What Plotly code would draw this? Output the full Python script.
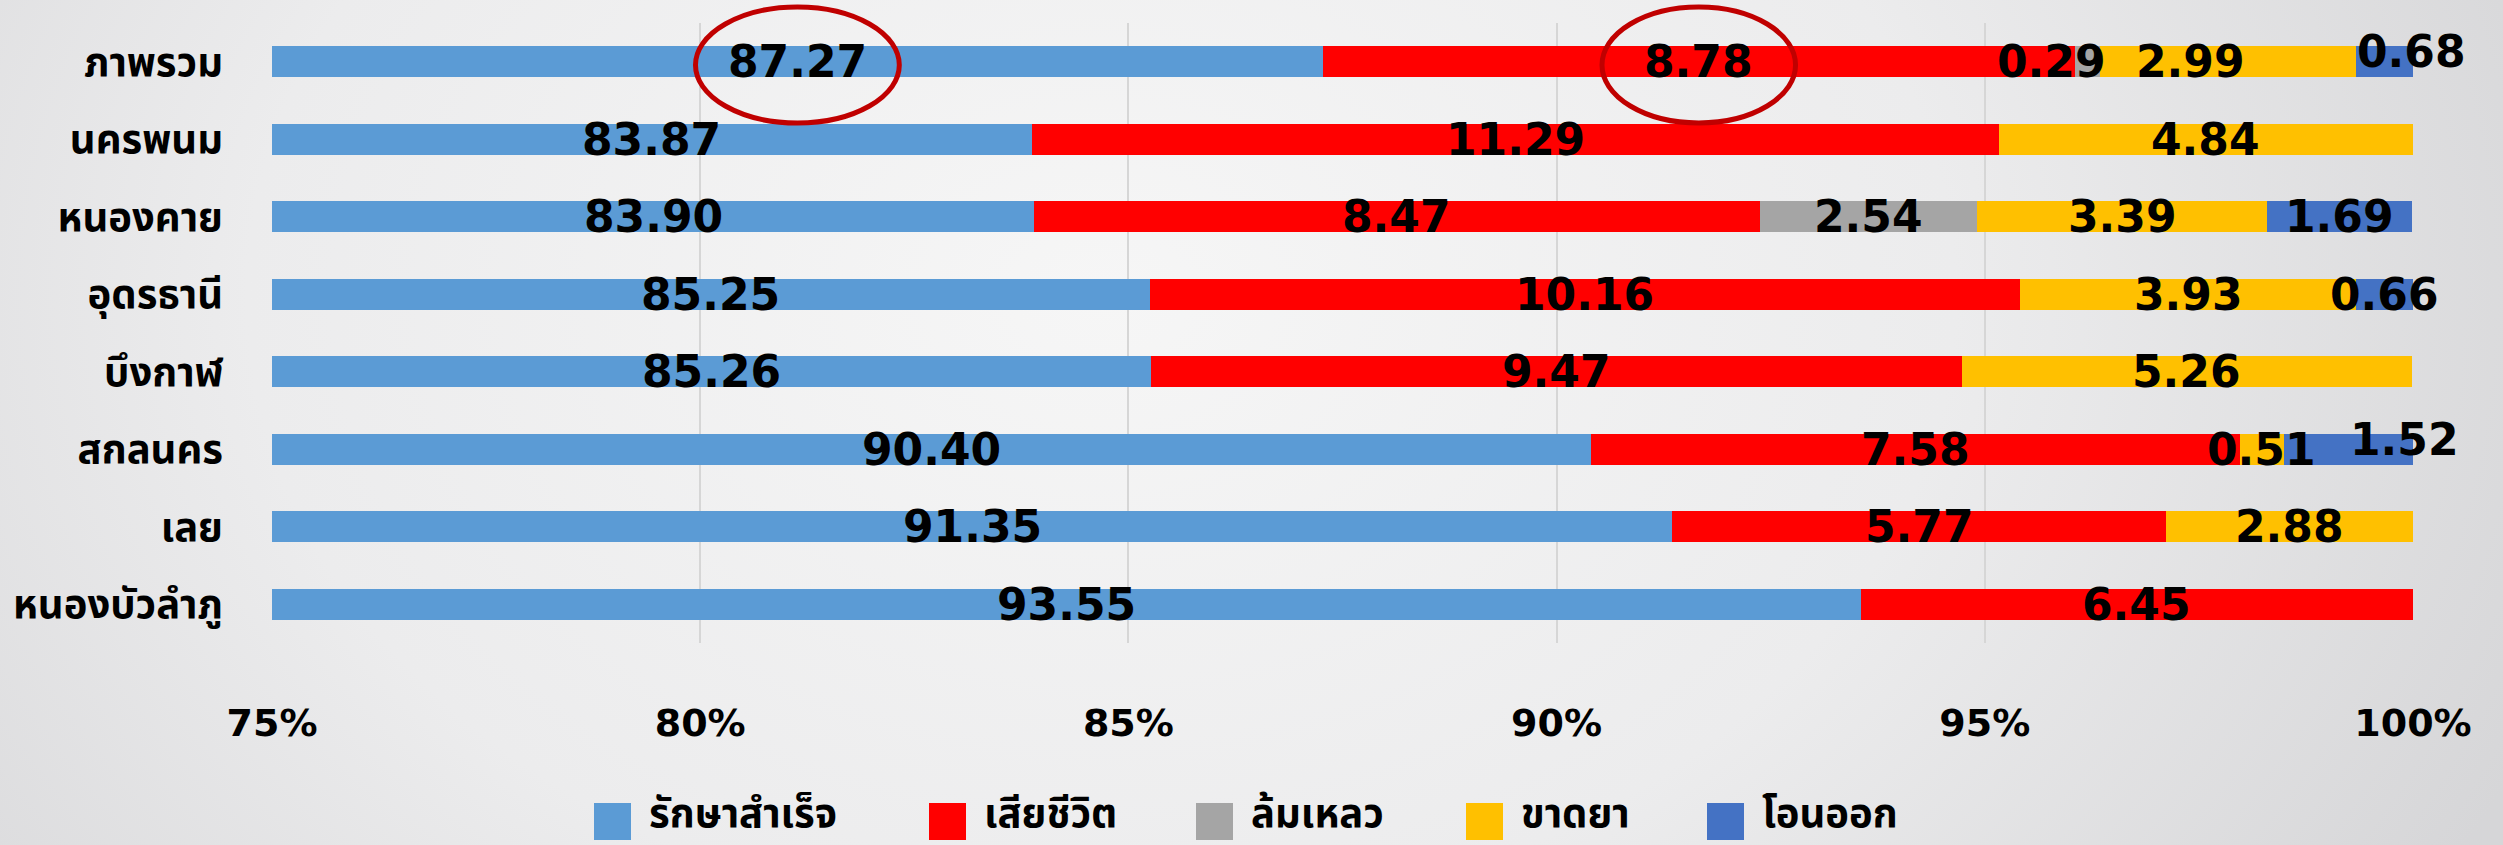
import plotly.graph_objects as go
import base64

# ---------------- data ----------------
provinces = ["ภาพรวม", "นครพนม", "หนองคาย", "อุดรธานี", "บึงกาฬ", "สกลนคร", "เลย", "หนองบัวลำภู"]
series_names = ["รักษาสำเร็จ", "เสียชีวิต", "ล้มเหลว", "ขาดยา", "โอนออก"]
cured    = [87.27, 83.87, 83.90, 85.25, 85.26, 90.40, 91.35, 93.55]
died     = [8.78, 11.29, 8.47, 10.16, 9.47, 7.58, 5.77, 6.45]
failed   = [0.29, 0, 2.54, 0, 0, 0, 0, 0]
default  = [2.99, 4.84, 3.39, 3.93, 5.26, 0.51, 2.88, 0]
transfer = [0.68, 0, 1.69, 0.66, 0, 1.52, 0, 0]
series_values = [cured, died, failed, default, transfer]
x_ticks = [75, 80, 85, 90, 95, 100]

# ---------------- style ----------------
colors = ["#5B9BD5", "#FF0000", "#A5A5A5", "#FFC000", "#4472C4"]
W, H = 2503, 845
L, R, T, B = 272, 90, 23, 202
XMIN, XMAX = 75, 100
NUM_FONT = dict(family="DejaVu Sans", size=44, color="black", weight="bold")
THAI_FAMILY = "Noto Sans Thai, Loma, Garuda, Norasi, Sawasdee, Noto Sans, sans-serif"
# manual offsets (pixels) for some data labels: (row, series) -> (dx, dy)
label_shift = {(0, 2): (-36, 0), (0, 3): (-37, 0), (0, 4): (27, 10), (5, 4): (56, 10)}

plot_w = W - L - R
plot_h = H - T - B


def px_x(px):
    return (px - L) / plot_w


def px_y(py):
    return (H - B - py) / plot_h


fig = go.Figure()
for name, vals, col in zip(series_names, series_values, colors):
    fig.add_trace(go.Bar(
        y=provinces, x=vals, name=name, orientation="h",
        marker=dict(color=col, line=dict(width=0)),
        showlegend=False, hoverinfo="x+name",
    ))

# data labels
annotations = []
for i, prov in enumerate(provinces):
    start = 0.0
    for j, vals in enumerate(series_values):
        v = vals[i]
        end = start + v
        if v > 0:
            cx = (max(start, XMIN) + min(end, XMAX)) / 2
            dx, dy = label_shift.get((i, j), (0, 0))
            annotations.append(dict(
                x=cx, y=prov, xref="x", yref="y", text=f"{v:.2f}",
                showarrow=False, font=NUM_FONT, xshift=dx, yshift=dy,
                xanchor="center", yanchor="middle",
            ))
        start = end

# red circles around the overall values
shapes = []
row0_centers = [(XMIN + cured[0]) / 2, cured[0] + died[0] / 2]
for c, hw in zip(row0_centers, [1.19, 1.13]):
    shapes.append(dict(type="circle", xref="x", yref="paper",
                       x0=c - hw, x1=c + hw, y0=px_y(123), y1=px_y(7),
                       line=dict(color="#C00000", width=5), layer="above"))

# manual legend
leg_sq_x = [594, 929, 1196, 1466, 1707]
sq = 37
leg_top = 803
for name, col, sx in zip(series_names, colors, leg_sq_x):
    shapes.append(dict(type="rect", xref="paper", yref="paper",
                       x0=px_x(sx), x1=px_x(sx + sq), y0=px_y(leg_top + sq), y1=px_y(leg_top),
                       fillcolor=col, line=dict(width=0), layer="above"))
    annotations.append(dict(x=px_x(sx + sq + 16), y=px_y(815), xref="paper", yref="paper",
                            text=name, showarrow=False, xanchor="left", yanchor="middle",
                            font=dict(family=THAI_FAMILY, size=40, color="black", weight="bold")))

# background gradient
svg = ('<svg xmlns="http://www.w3.org/2000/svg" width="2503" height="845" viewBox="0 0 2503 845" '
       'preserveAspectRatio="none"><defs><radialGradient id="g" cx="0.44" cy="0.35" r="0.62" '
       'gradientTransform="translate(0.44 0.35) scale(1 2.2) translate(-0.44 -0.35)">'
       '<stop offset="0" stop-color="#f6f6f6"/><stop offset="0.55" stop-color="#ececed"/>'
       '<stop offset="1" stop-color="#d6d6d8"/></radialGradient></defs>'
       '<rect width="2503" height="845" fill="url(#g)"/></svg>')
src = "data:image/svg+xml;base64," + base64.b64encode(svg.encode()).decode()

fig.update_layout(
    width=W, height=H,
    margin=dict(l=L, r=R, t=T, b=B, autoexpand=False),
    barmode="stack", bargap=0.6,
    paper_bgcolor="#e6e6e8", plot_bgcolor="rgba(0,0,0,0)",
    annotations=annotations, shapes=shapes,
    images=[dict(source=src, xref="paper", yref="paper",
                 x=px_x(0), y=px_y(0), sizex=W / plot_w, sizey=H / plot_h,
                 sizing="stretch", layer="below", xanchor="left", yanchor="top")],
    xaxis=dict(range=[XMIN, XMAX], tickvals=x_ticks, ticktext=[f"{t}%" for t in x_ticks],
               showgrid=True, gridcolor="#d6d6d6", gridwidth=1.5, zeroline=False,
               showline=False, ticks="", ticklabelstandoff=54, automargin=False,
               tickfont=dict(family="DejaVu Sans", size=38, color="black", weight="bold")),
    yaxis=dict(range=[len(provinces) - 0.5, -0.5], showgrid=False, zeroline=False, showline=False,
               ticks="", ticklabelstandoff=48, automargin=False,
               tickfont=dict(family=THAI_FAMILY, size=40, color="black", weight="bold")),
    hovermode="closest",
)

fig.write_html("out.html", config={"displayModeBar": False},
               post_script="document.body.style.margin='0';document.body.style.overflow='hidden';")
